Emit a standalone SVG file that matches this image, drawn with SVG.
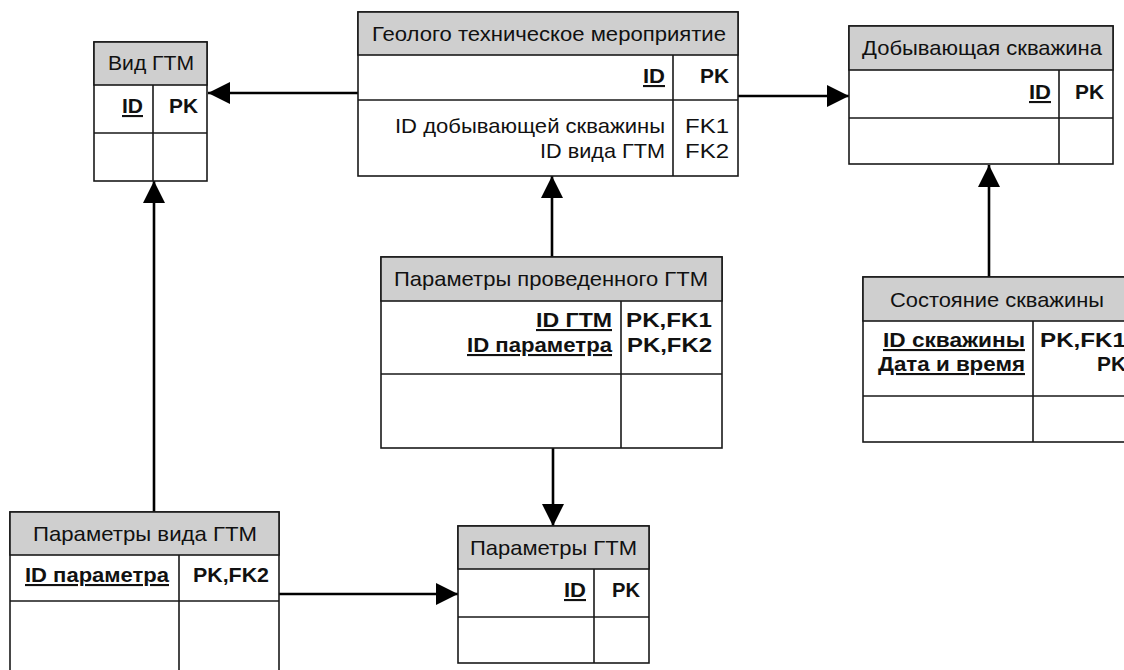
<svg xmlns="http://www.w3.org/2000/svg" width="1124" height="670" viewBox="0 0 1124 670">
  <defs>
    <marker id="arrow" markerUnits="userSpaceOnUse" markerWidth="22" markerHeight="22" refX="22" refY="11" orient="auto">
      <path d="M0,0 L22,11 L0,22 Z" fill="#000"/>
    </marker>
    <style>
      .box { fill: #fff; stroke: #1a1a1a; stroke-width: 1.6; }
      .head { fill: #cfcfcf; stroke: #1a1a1a; stroke-width: 1.6; }
      .sep { stroke: #1a1a1a; stroke-width: 1.6; fill: none; }
      text { font-family: "Liberation Sans", Arial, sans-serif; font-size: 21px; fill: #111; }
      .key { font-weight: bold; }
      .pk { text-decoration: underline; }
      .link { stroke: #000; stroke-width: 2.6; fill: none; marker-end: url(#arrow); }
    </style>
  </defs>

  <rect width="1124" height="670" fill="#fff"/>

  <!-- relationships -->
  <g id="connectors">
    <line class="link" x1="358" y1="93" x2="208" y2="93"/>
    <line class="link" x1="738" y1="96" x2="849" y2="96"/>
    <line class="link" x1="552" y1="257" x2="552" y2="176"/>
    <line class="link" x1="553" y1="448" x2="553" y2="526"/>
    <line class="link" x1="989" y1="277" x2="989" y2="165"/>
    <line class="link" x1="154" y1="512" x2="154" y2="181"/>
    <line class="link" x1="279" y1="594" x2="458" y2="594"/>
  </g>

  <!-- Вид ГТМ -->
  <g id="vid-gtm">
    <rect class="box" x="94" y="42" width="113" height="139"/>
    <rect class="head" x="94" y="42" width="113" height="43"/>
    <path class="sep" d="M94,133 H207 M153,85 V181"/>
    <text x="108" y="70" textLength="86" lengthAdjust="spacingAndGlyphs">Вид ГТМ</text>
    <text class="key pk" x="122" y="113" textLength="21" lengthAdjust="spacingAndGlyphs">ID</text>
    <text class="key" x="169" y="113" textLength="29" lengthAdjust="spacingAndGlyphs">PK</text>
  </g>

  <!-- Геолого техническое мероприятие -->
  <g id="gtm">
    <rect class="box" x="358" y="12" width="380" height="164"/>
    <rect class="head" x="358" y="12" width="380" height="43"/>
    <path class="sep" d="M358,100 H738 M673,55 V176"/>
    <text x="372" y="41" textLength="354" lengthAdjust="spacingAndGlyphs">Геолого техническое мероприятие</text>
    <text class="key pk" x="643" y="83" textLength="22" lengthAdjust="spacingAndGlyphs">ID</text>
    <text class="key" x="700" y="83" textLength="29" lengthAdjust="spacingAndGlyphs">PK</text>
    <text x="395" y="133" textLength="270" lengthAdjust="spacingAndGlyphs">ID добывающей скважины</text>
    <text x="540" y="158" textLength="125" lengthAdjust="spacingAndGlyphs">ID вида ГТМ</text>
    <text x="685" y="133" textLength="44" lengthAdjust="spacingAndGlyphs">FK1</text>
    <text x="685" y="158" textLength="44" lengthAdjust="spacingAndGlyphs">FK2</text>
  </g>

  <!-- Добывающая скважина -->
  <g id="dob-skv">
    <rect class="box" x="849" y="26" width="264" height="138"/>
    <rect class="head" x="849" y="26" width="264" height="44"/>
    <path class="sep" d="M849,118 H1113 M1059,70 V164"/>
    <text x="862" y="55" textLength="240" lengthAdjust="spacingAndGlyphs">Добывающая скважина</text>
    <text class="key pk" x="1029" y="99" textLength="22" lengthAdjust="spacingAndGlyphs">ID</text>
    <text class="key" x="1075" y="99" textLength="29" lengthAdjust="spacingAndGlyphs">PK</text>
  </g>

  <!-- Параметры проведенного ГТМ -->
  <g id="param-prov-gtm">
    <rect class="box" x="381" y="257" width="341" height="191"/>
    <rect class="head" x="381" y="257" width="341" height="44"/>
    <path class="sep" d="M381,374 H722 M621,301 V448"/>
    <text x="394" y="286" textLength="314" lengthAdjust="spacingAndGlyphs">Параметры проведенного ГТМ</text>
    <text class="key pk" x="536" y="327" textLength="76" lengthAdjust="spacingAndGlyphs">ID ГТМ</text>
    <text class="key pk" x="467" y="352" textLength="145" lengthAdjust="spacingAndGlyphs">ID параметра</text>
    <text class="key" x="626" y="327" textLength="86" lengthAdjust="spacingAndGlyphs">PK,FK1</text>
    <text class="key" x="627" y="352" textLength="85" lengthAdjust="spacingAndGlyphs">PK,FK2</text>
  </g>

  <!-- Состояние скважины -->
  <g id="sost-skv">
    <rect class="box" x="863" y="277" width="274" height="165"/>
    <rect class="head" x="863" y="277" width="274" height="44"/>
    <path class="sep" d="M863,396 H1137 M1033,321 V442"/>
    <text x="890" y="307" textLength="214" lengthAdjust="spacingAndGlyphs">Состояние скважины</text>
    <text class="key pk" x="883" y="347" textLength="142" lengthAdjust="spacingAndGlyphs">ID скважины</text>
    <text class="key pk" x="878" y="371" textLength="147" lengthAdjust="spacingAndGlyphs">Дата и время</text>
    <text class="key" x="1040" y="347" textLength="86" lengthAdjust="spacingAndGlyphs">PK,FK1</text>
    <text class="key" x="1097" y="371" textLength="29" lengthAdjust="spacingAndGlyphs">PK</text>
  </g>

  <!-- Параметры вида ГТМ -->
  <g id="param-vid-gtm">
    <rect class="box" x="10" y="512" width="269" height="190"/>
    <rect class="head" x="10" y="512" width="269" height="43"/>
    <path class="sep" d="M10,601 H279 M179,555 V702"/>
    <text x="33" y="541" textLength="224" lengthAdjust="spacingAndGlyphs">Параметры вида ГТМ</text>
    <text class="key pk" x="25" y="582" textLength="144" lengthAdjust="spacingAndGlyphs">ID параметра</text>
    <text class="key" x="193" y="582" textLength="76" lengthAdjust="spacingAndGlyphs">PK,FK2</text>
  </g>

  <!-- Параметры ГТМ -->
  <g id="param-gtm">
    <rect class="box" x="458" y="526" width="191" height="137"/>
    <rect class="head" x="458" y="526" width="191" height="43"/>
    <path class="sep" d="M458,617 H649 M594,569 V663"/>
    <text x="470" y="555" textLength="167" lengthAdjust="spacingAndGlyphs">Параметры ГТМ</text>
    <text class="key pk" x="564" y="597" textLength="22" lengthAdjust="spacingAndGlyphs">ID</text>
    <text class="key" x="612" y="597" textLength="28" lengthAdjust="spacingAndGlyphs">PK</text>
  </g>
</svg>
